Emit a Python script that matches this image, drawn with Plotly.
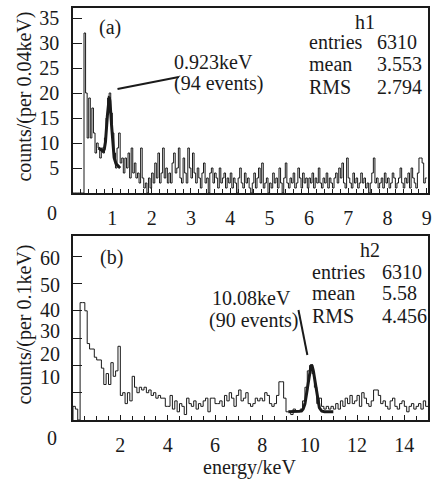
import plotly.graph_objects as go
import numpy as np

# ---- data ----
# (a) counts per 0.04 keV, bins from 0 to 9 keV
bin_a = 0.04
counts_a = [
    0, 0, 0, 0, 0, 0, 0, 32, 20, 11,
    19, 11, 17, 12, 8, 10, 9, 7, 9, 8,
    11, 15, 19, 20, 16, 12, 8, 5, 9, 12,
    6, 7, 4, 7, 5, 8, 3, 9, 4, 6,
    3, 4, 2, 9, 3, 1, 2, 0, 3, 1,
    4, 2, 6, 3, 8, 2, 4, 9, 3, 5,
    2, 4, 2, 6, 8, 4, 5, 9, 3, 2,
    7, 4, 2, 9, 5, 3, 8, 4, 2, 5,
    3, 1, 4, 6, 2, 3, 0, 4, 5, 2,
    4, 3, 1, 5, 2, 3, 4, 1, 3, 2,
    4, 1, 3, 2, 0, 3, 5, 2, 1, 4,
    2, 3, 1, 0, 2, 4, 1, 3, 5, 2,
    6, 1, 2, 3, 0, 2, 1, 4, 2, 3,
    1, 5, 2, 0, 3, 6, 2, 1, 3, 2,
    4, 1, 2, 5, 3, 1, 4, 2, 3, 1,
    3, 2, 4, 1, 3, 2, 5, 2, 1, 3,
    2, 4, 1, 3, 2, 1, 3, 4, 2, 5,
    3, 6, 2, 1, 7, 3, 2, 1, 4, 2,
    3, 1, 2, 4, 2, 3, 1, 2, 0, 2,
    4, 7, 2, 3, 1, 2, 3, 1, 4, 2,
    3, 1, 2, 4, 3, 1, 2, 3, 5, 2,
    1, 3, 2, 4, 1, 5, 3, 2, 1, 4,
    7, 7, 6, 2, 3,
]

# (b) counts per 0.1 keV, bins from 0 to 15 keV
bin_b = 0.1
counts_b = [
    5, 4, 0, 43, 43, 40, 28, 26, 26, 23,
    22, 22, 19, 13, 17, 13, 21, 16, 18, 27,
    9, 10, 6, 10, 7, 16, 12, 10, 12, 11,
    12, 10, 11, 9, 10, 8, 9, 8, 8, 5,
    5, 9, 4, 7, 3, 6, 5, 2, 8, 6,
    5, 7, 4, 6, 5, 7, 8, 3, 8, 8,
    6, 6, 7, 5, 9, 7, 10, 8, 5, 9,
    11, 7, 8, 10, 6, 5, 6, 8, 7, 8,
    7, 10, 9, 6, 5, 6, 9, 14, 14, 8,
    3, 3, 2, 4, 3, 3, 4, 7, 12, 18,
    20, 17, 12, 6, 8, 5, 4, 5, 4, 5,
    4, 6, 4, 7, 5, 8, 6, 9, 6, 7,
    9, 5, 10, 8, 6, 5, 7, 11, 11, 9,
    6, 7, 5, 4, 7, 8, 5, 4, 6, 7,
    5, 3, 5, 6, 4, 5, 6, 4, 7, 5,
]

# fitted peaks (gaussian + linear background)
fit_a = dict(mean=0.923, sigma=0.055, amp=12.0, bg0=9.0, bg1=5.0, lo=0.65, hi=1.2)
fit_b = dict(mean=10.08, sigma=0.15, amp=17.0, bg0=3.0, bg1=3.0, lo=9.1, hi=11.0)

stats_a = [("entries", "6310"), ("mean", "3.553"), ("RMS", "2.794")]
stats_b = [("entries", "6310"), ("mean", "5.58"), ("RMS", "4.456")]

FONT = "Liberation Serif"
FS = 20
INK = "#1a1a1a"

W, H = 433, 480
ML, MR, MT, MB = 73, 1, 8, 60


def px(x):
    return (x - ML) / (W - ML - MR)


def py(y):
    return (H - MB - y) / (H - MT - MB)


def step_xy(counts, width):
    edges = np.arange(len(counts) + 1) * width
    x = np.concatenate([[edges[0]], edges])
    y = np.concatenate([[0], counts, [counts[-1]]])
    return x, y


def fit_curve(p):
    x = np.linspace(p["lo"], p["hi"], 200)
    bg = p["bg0"] + (p["bg1"] - p["bg0"]) * (x - p["lo"]) / (p["hi"] - p["lo"])
    return x, bg + p["amp"] * np.exp(-0.5 * ((x - p["mean"]) / p["sigma"]) ** 2)


fig = go.Figure()

xa, ya = step_xy(counts_a, bin_a)
fig.add_trace(go.Scatter(x=xa, y=ya, mode="lines", line=dict(color=INK, width=1, shape="hv"),
                         xaxis="x", yaxis="y"))
fx, fy = fit_curve(fit_a)
fig.add_trace(go.Scatter(x=fx, y=fy, mode="lines", line=dict(color=INK, width=3),
                         xaxis="x", yaxis="y"))

xb, yb = step_xy(counts_b, bin_b)
fig.add_trace(go.Scatter(x=xb, y=yb, mode="lines", line=dict(color=INK, width=1, shape="hv"),
                         xaxis="x2", yaxis="y2"))
fx, fy = fit_curve(fit_b)
fig.add_trace(go.Scatter(x=fx, y=fy, mode="lines", line=dict(color=INK, width=3),
                         xaxis="x2", yaxis="y2"))

axis_common = dict(showgrid=False, zeroline=False, showline=True, linecolor=INK, linewidth=1.5,
                   mirror=True, ticks="inside", tickcolor=INK, tickwidth=1,
                   tickfont=dict(family=FONT, size=FS, color=INK))

fig.update_layout(
    width=W, height=H,
    margin=dict(l=ML, r=MR, t=MT, b=MB),
    paper_bgcolor="white", plot_bgcolor="white",
    showlegend=False, hovermode=False,
    font=dict(family=FONT, size=FS, color=INK),
    xaxis=dict(axis_common, domain=[0, 1], anchor="y", range=[0, 9.03],
               tickvals=list(range(1, 10)), ticklen=5, ticklabelstandoff=6,
               ticklabeloverflow="allow",
               minor=dict(dtick=0.2, ticks="inside", ticklen=4, tickcolor=INK)),
    yaxis=dict(axis_common, domain=[227 / 412, 1], anchor="x", range=[0, 37],
               tickvals=list(range(5, 40, 5)), ticklen=9, ticklabelstandoff=8),
    xaxis2=dict(axis_common, domain=[0, 1], anchor="y2", range=[0, 15],
                tickvals=list(range(2, 16, 2)), ticklen=5, ticklabelstandoff=6,
                ticklabeloverflow="allow",
                minor=dict(dtick=0.5, ticks="inside", ticklen=4, tickcolor=INK)),
    yaxis2=dict(axis_common, domain=[0, 184 / 412], anchor="x2", range=[0, 67.4],
                tickvals=list(range(10, 70, 10)), ticklen=9, showticklabels=False),
)

ann = []


def text(x, y, s, xanchor="center", angle=0):
    ann.append(dict(x=px(x), y=py(y), xref="paper", yref="paper", text=s, showarrow=False,
                    xanchor=xanchor, yanchor="middle", textangle=angle,
                    font=dict(family=FONT, size=FS, color=INK)))


# stray "0" labels left of each panel
text(52, 213, "0")
text(52, 438, "0")
# panel (b) y labels as printed
for lab, yy in zip(["60", "50", "40", "30", "20", "10"], [258, 285, 310, 331, 354, 377]):
    text(62, yy, lab, xanchor="right")

# axis titles
text(23, 97, "counts/(per 0.04keV)", angle=-90)
text(23, 325, "counts/(per 0.1keV)", angle=-90)
text(251, 467, "energy/keV")

# panel labels and peak notes
text(110, 28, "(a)")
text(112, 257, "(b)")
text(173, 62, "0.923keV", xanchor="left")
text(173, 83, "(94 events)", xanchor="left")
text(212, 298, "10.08keV", xanchor="left")
text(209, 320, "(90 events)", xanchor="left")

# stats boxes
text(368, 22, "h1")
for (k, v), yy in zip(stats_a, [42, 64, 87]):
    text(310, yy, k, xanchor="left")
    text(378, yy, v, xanchor="left")
text(373, 250, "h2")
for (k, v), yy in zip(stats_b, [272, 293, 316]):
    text(313, yy, k, xanchor="left")
    text(383, yy, v, xanchor="left")

fig.update_layout(annotations=ann)

# pointer lines to the peaks
shapes = [
    dict(type="line", xref="paper", yref="paper", x0=px(118), y0=py(89), x1=px(180), y1=py(77),
         line=dict(color=INK, width=2)),
    dict(type="line", xref="paper", yref="paper", x0=px(301), y0=py(310), x1=px(310), y1=py(355),
         line=dict(color=INK, width=2)),
]
fig.update_layout(shapes=shapes)

# drop the page's default body margin so the 433x480 figure fills the window exactly
fig.write_html("out.html", config={"displayModeBar": False},
               post_script="document.body.style.margin='0';")
